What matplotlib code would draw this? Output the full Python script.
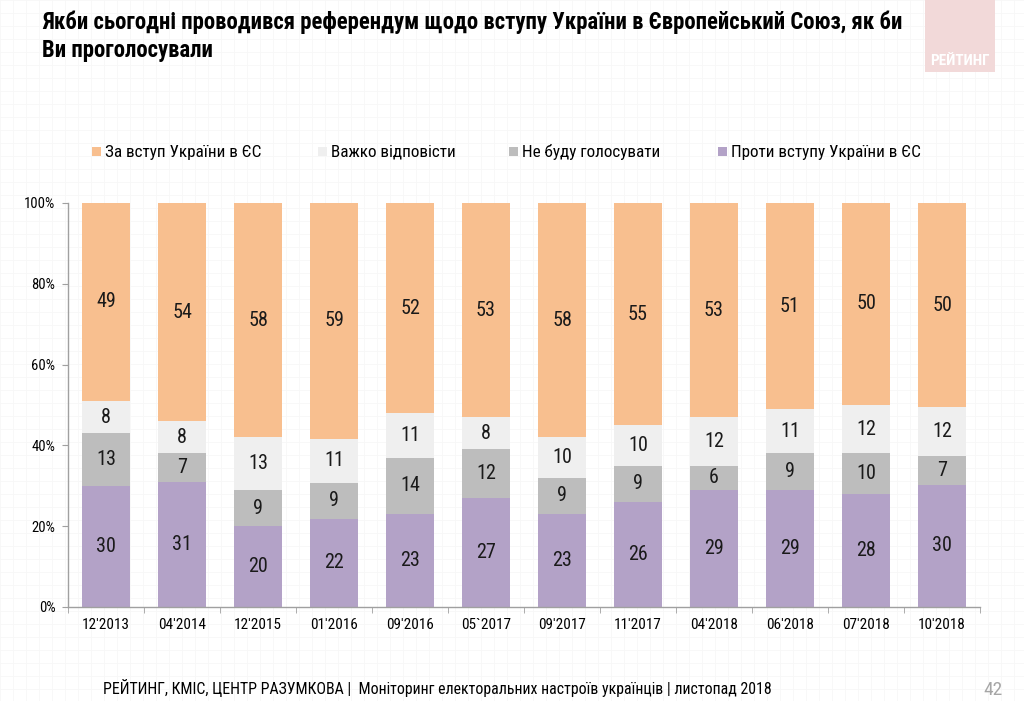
import numpy as np
import matplotlib
matplotlib.use("Agg")
import matplotlib.pyplot as plt
from matplotlib.patches import Rectangle

plt.rcParams['font.family'] = ['Roboto Condensed', 'PT Sans Narrow', 'DejaVu Sans']

periods = ["12'2013", "04'2014", "12'2015", "01'2016", "09'2016", "05`2017",
           "09'2017", "11'2017", "04'2018", "06'2018", "07'2018", "10'2018"]
za = [49, 54, 58, 59, 52, 53, 58, 55, 53, 51, 50, 50]
vazhko = [8, 8, 13, 11, 11, 8, 10, 10, 12, 11, 12, 12]
ne_budu = [13, 7, 9, 9, 14, 12, 9, 9, 6, 9, 10, 7]
proty = [30, 31, 20, 22, 23, 27, 23, 26, 29, 29, 28, 30]

names = ['За вступ України в ЄС', 'Важко відповісти', 'Не буду голосувати', 'Проти вступу України в ЄС']
colors = ['#F8BF8F', '#EFEFEF', '#BDBDBD', '#B3A2C7']

fig = plt.figure(figsize=(10.24, 7.01), dpi=100)

# faint squared-paper background
bg = fig.add_axes([0, 0, 1, 1], zorder=-5)
bg.set_xlim(0, 1024)
bg.set_ylim(701, 0)
for gx in np.arange(0, 1024, 13):
    bg.axvline(gx, color='#F7F7F7', lw=0.6)
for gy in np.arange(0, 701, 13):
    bg.axhline(gy, color='#F7F7F7', lw=0.6)
bg.axis('off')

ax = fig.add_axes([68/1024, 1-607/701, 912/1024, 404/701])

x = np.arange(len(periods))
series = [proty, ne_budu, vazhko, za]  # bottom to top
scols = [colors[3], colors[2], colors[1], colors[0]]
tot = np.sum(np.array(series, dtype=float), axis=0)
bottom = np.zeros(len(periods))
for vals, c in zip(series, scols):
    v = np.array(vals, dtype=float)
    h = v / tot * 100
    ax.bar(x, h, bottom=bottom, width=0.62, color=c, edgecolor='none', zorder=2)
    for xi, b, hh, val in zip(x, bottom, h, vals):
        ax.text(xi, b + hh/2, str(val), ha='center', va='center', fontsize=14.5, color='#1a1a1a', zorder=3)
    bottom += h

ax.set_xlim(-0.5, len(periods) - 0.5)
ax.set_ylim(0, 100)
ax.set_yticks(np.arange(0, 101, 20))
ax.set_yticklabels([f'{v}%' for v in range(0, 101, 20)], fontsize=10.5)
ax.set_xticks(x)
ax.set_xticklabels(periods, fontsize=11)
ax.set_xticks(np.arange(-0.5, len(periods), 1), minor=True)
ax.tick_params(axis='x', which='major', length=0, pad=8)
ax.tick_params(axis='x', which='minor', length=4, color='#A0A0A0', direction='out')
ax.tick_params(axis='y', length=4, color='#A0A0A0', direction='out', pad=5)
for s in ['top', 'right']:
    ax.spines[s].set_visible(False)
for s in ['left', 'bottom']:
    ax.spines[s].set_color('#A0A0A0')
    ax.spines[s].set_linewidth(1.0)
ax.set_facecolor('none')

# title
fig.text(42/1024, 1-22/701, 'Якби сьогодні проводився референдум щодо вступу України в Європейський Союз, як би',
         fontsize=16.4, fontweight='bold', va='center', ha='left')
fig.text(42/1024, 1-50/701, 'Ви проголосували', fontsize=16.4, fontweight='bold', va='center', ha='left')

# logo
fig.patches.append(Rectangle((925/1024, 1-72/701), 70/1024, 72/701, transform=fig.transFigure,
                             facecolor='#F2D9D9', edgecolor='none', zorder=0))
fig.text(960/1024, 1-61/701, 'РЕЙТИНГ', color='white', fontsize=11, fontweight='bold', ha='center', va='center')

# legend
leg_x = [96, 322, 513, 722]
for lx, n, c in zip(leg_x, names, colors):
    fig.patches.append(Rectangle(((lx-4)/1024, 1-156/701), 9/1024, 9/701, transform=fig.transFigure,
                                 facecolor=c, edgecolor='none'))
    fig.text((lx+9)/1024, 1-152/701, n, fontsize=12.3, va='center', ha='left')

# footer
fig.text(103/1024, 1-688/701, 'РЕЙТИНГ, КМІС, ЦЕНТР РАЗУМКОВА |  Моніторинг електоральних настроїв українців | листопад 2018',
         fontsize=11.4, va='center', ha='left')
fig.text(1003/1024, 1-690/701, '42', fontsize=14, color='#A6A6A6', va='center', ha='right')

fig.savefig('out.png', dpi=100)
